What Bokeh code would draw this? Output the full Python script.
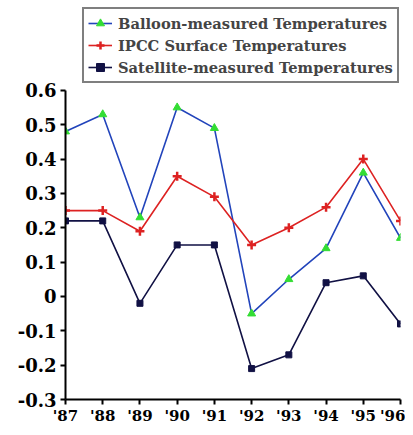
from bokeh.plotting import figure
from bokeh.models import Legend, LegendItem, FixedTicker, Range1d
from bokeh.embed import file_html
from bokeh.resources import INLINE

years = [1987, 1988, 1989, 1990, 1991, 1992, 1993, 1994, 1995, 1996]
year_labels = ["'87", "'88", "'89", "'90", "'91", "'92", "'93", "'94", "'95", "'96"]
balloon = [0.48, 0.53, 0.23, 0.55, 0.49, -0.05, 0.05, 0.14, 0.36, 0.17]
ipcc = [0.25, 0.25, 0.19, 0.35, 0.29, 0.15, 0.20, 0.26, 0.40, 0.22]
satellite = [0.22, 0.22, -0.02, 0.15, 0.15, -0.21, -0.17, 0.04, 0.06, -0.08]
y_ticks = [-0.3, -0.2, -0.1, 0, 0.1, 0.2, 0.3, 0.4, 0.5, 0.6]
y_tick_labels = ["-0.3", "-0.2", "-0.1", "0", "0.1", "0.2", "0.3", "0.4", "0.5", "0.6"]

p = figure(width=405, height=427, output_backend="svg", toolbar_location=None,
           x_range=Range1d(1987, 1996), y_range=Range1d(-0.3, 0.85),
           min_border_left=65, min_border_right=5, min_border_top=4, min_border_bottom=25)
p.outline_line_color = None
p.grid.grid_line_color = None
p.background_fill_color = "white"

r1 = p.line(years, balloon, line_color="#2244bb", line_width=1.6)
m1 = p.scatter(years, balloon, marker="triangle", size=8, fill_color="#33dd33", line_color="#33dd33")
r2 = p.line(years, ipcc, line_color="#dd2222", line_width=1.6)
m2 = p.scatter(years, ipcc, marker="cross", size=9, line_color="#dd2222", line_width=2.5)
r3 = p.line(years, satellite, line_color="#111144", line_width=1.6)
m3 = p.scatter(years, satellite, marker="square", size=6, fill_color="#111144", line_color="#111144")

p.xaxis.ticker = FixedTicker(ticks=years)
p.xaxis.major_label_overrides = {y: l for y, l in zip(years, year_labels)}
p.yaxis.ticker = FixedTicker(ticks=y_ticks)
p.yaxis.major_label_overrides = {t: l for t, l in zip(y_ticks, y_tick_labels)}
p.yaxis.bounds = (-0.3, 0.6)

for ax in (p.xaxis, p.yaxis):
    ax.axis_line_width = 2
    ax.axis_line_color = "black"
    ax.major_tick_line_width = 2
    ax.major_tick_line_color = "black"
    ax.major_tick_out = 5
    ax.major_tick_in = 0
    ax.minor_tick_line_color = None
    ax.major_label_text_font = "DejaVu Serif"
    ax.major_label_text_font_style = "bold"
    ax.major_label_text_color = "black"
p.yaxis.major_label_text_font_size = "18px"
p.xaxis.major_label_text_font_size = "15px"
p.yaxis.major_label_standoff = 4
p.xaxis.major_label_standoff = 2

legend = Legend(items=[
    LegendItem(label="Balloon-measured Temperatures", renderers=[r1, m1]),
    LegendItem(label="IPCC Surface Temperatures", renderers=[r2, m2]),
    LegendItem(label="Satellite-measured Temperatures", renderers=[r3, m3]),
], location=(17, 316))
legend.border_line_color = "black"
legend.border_line_width = 2
legend.background_fill_alpha = 1
legend.padding = 4
legend.spacing = 2
legend.margin = 0
legend.glyph_width = 24
legend.glyph_height = 20
legend.label_height = 20
legend.label_standoff = 6
legend.label_text_font = "DejaVu Serif"
legend.label_text_font_style = "bold"
legend.label_text_font_size = "14.7px"
p.add_layout(legend, "center")

open("out.html", "w").write(file_html(p, INLINE))
